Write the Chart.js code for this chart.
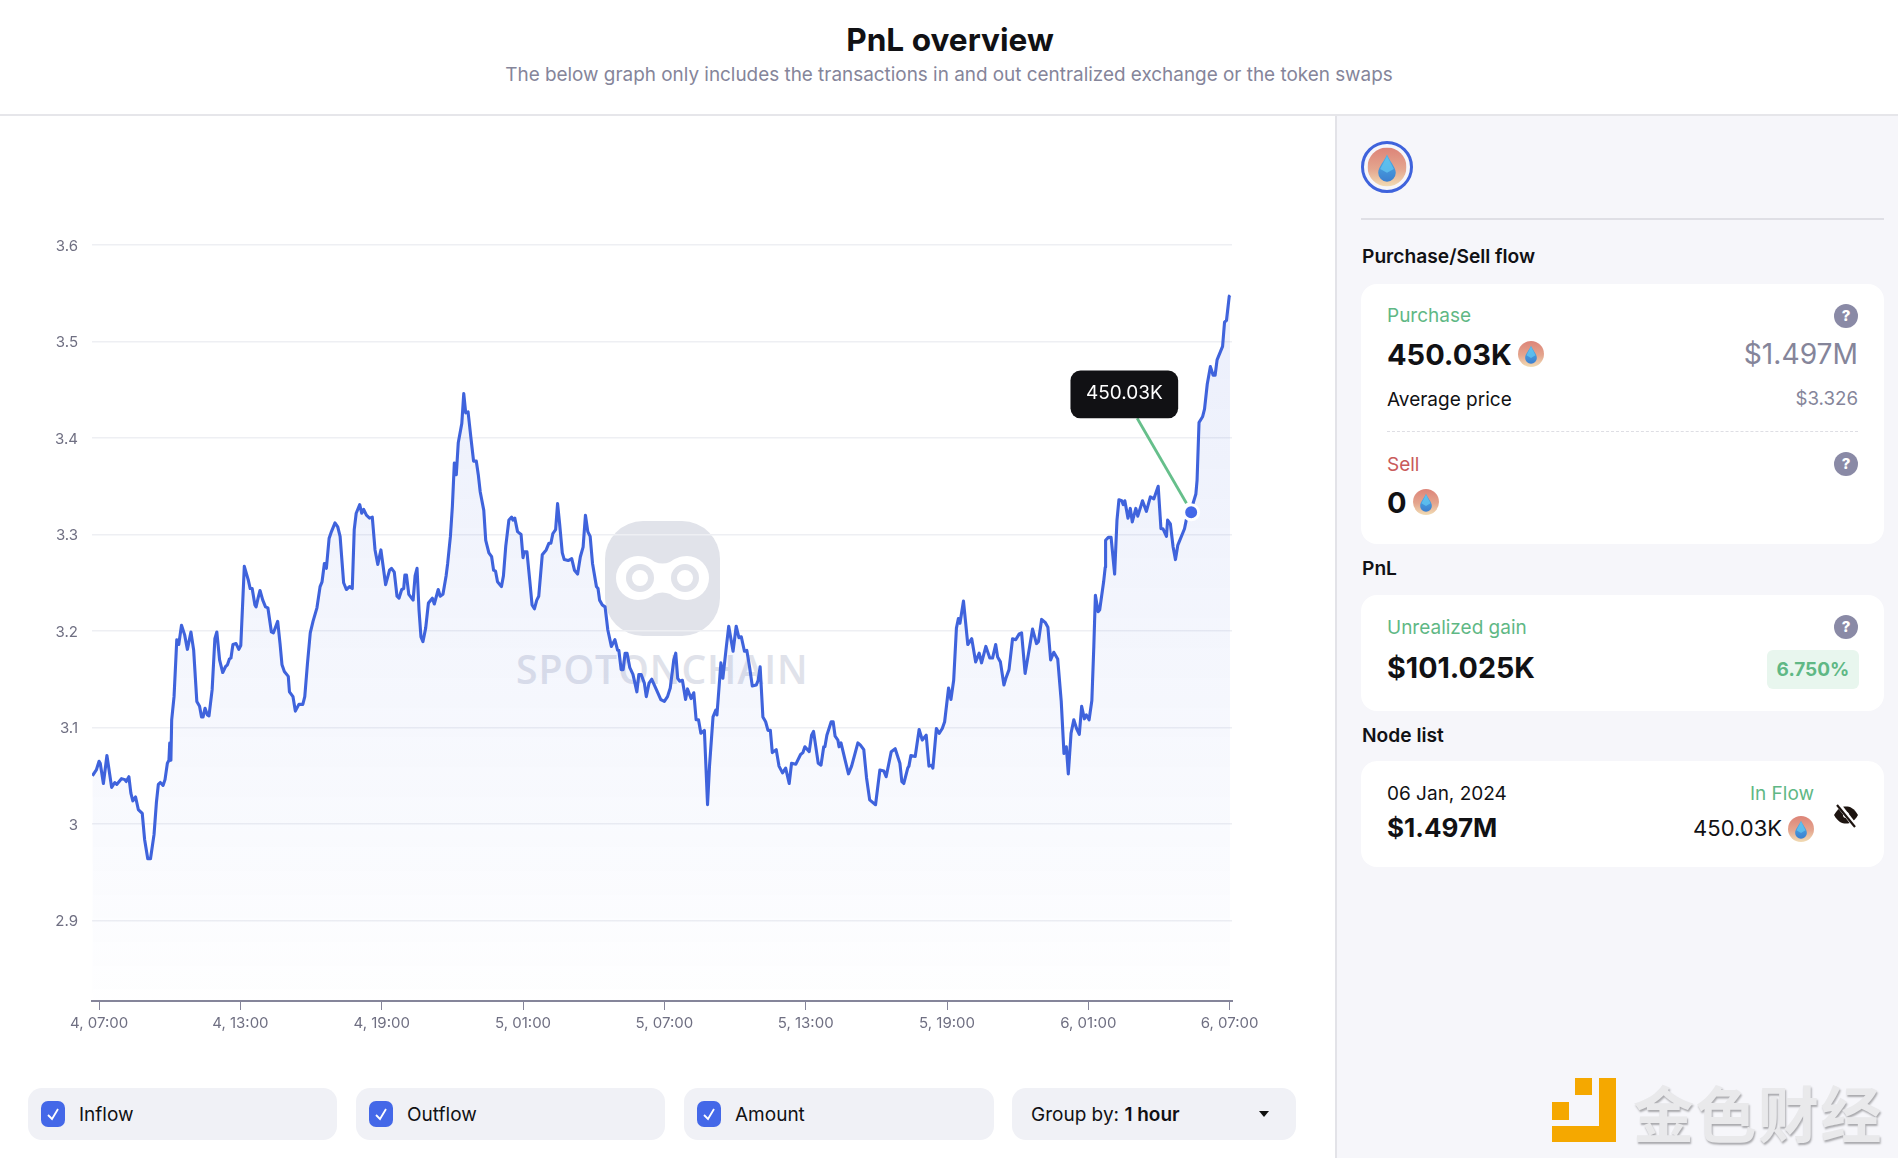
<!DOCTYPE html>
<html>
<head>
<meta charset="utf-8">
<script src="https://cdn.jsdelivr.net/npm/chart.js@4"></script>
<style>
*{box-sizing:border-box;margin:0;padding:0}
html,body{width:1898px;height:1158px;overflow:hidden;background:#fff;font-family:Inter,"Noto Sans",sans-serif;color:#111114}
.abs{position:absolute;white-space:nowrap;line-height:1}
.mid{transform:translateY(-50%)}
#head{position:absolute;left:0;top:0;width:1898px;height:116px;border-bottom:2px solid #e6e6ea;background:#fff}
#title{position:absolute;left:1px;width:1898px;text-align:center;top:39px;transform:translateY(-50%);font-size:31.6px;font-weight:700}
#sub{position:absolute;left:0;width:1898px;text-align:center;top:74px;transform:translateY(-50%);font-size:18.9px;color:#85859a}
#panel{position:absolute;left:1335px;top:116px;width:563px;height:1042px;background:#f6f6fa;border-left:2px solid #e3e3e8}
#divider{position:absolute;left:1361px;top:218px;width:523px;height:2px;background:#dfdfe5}
.card{position:absolute;left:1361px;width:523px;background:#fff;border-radius:16px}
.h{font-size:19.2px;font-weight:600;left:1362px}
.lab{font-size:19px;left:1387px}
.big{font-size:29px;font-weight:700;left:1387px}
.green{color:#5fb885}.red{color:#c95a5a}.gray{color:#85859a}
.help{position:absolute;width:24px;height:24px;border-radius:50%;background:#8a8aa6;color:#fff;font-size:15px;font-weight:800;text-align:center;line-height:24px}
.r{text-align:right}
.pill{position:absolute;top:1088px;height:52px;background:#f0f1f6;border-radius:14px}
.cb{position:absolute;left:13px;top:13px;width:24px;height:26px;border-radius:7px;background:#4468e8}
.pill span{position:absolute;left:51px;top:26px;transform:translateY(-50%);font-size:19px;white-space:nowrap;line-height:1}
#wmicon{position:absolute;left:605px;top:521px;width:115px;height:115px;border-radius:38px;background:#e1e3ea}
#wmtext{position:absolute;left:516px;top:654px;font-family:"Open Sans",sans-serif;font-weight:600;font-size:39px;line-height:30px;color:#e0e2ea;letter-spacing:1px;white-space:nowrap;transform:scaleX(1.0);transform-origin:left}
canvas{position:absolute;left:0;top:116px}
#jinse{position:absolute;left:1633px;top:1077px;font-family:"Noto Sans CJK SC",sans-serif;font-weight:700;font-size:61px;line-height:70px;color:#e9e9eb;letter-spacing:1.5px;text-shadow:1px 2px 2px #a9a9ad;white-space:nowrap}
</style>
</head>
<body>
<svg width="0" height="0" style="position:absolute">
<defs>
<linearGradient id="tokBg" x1="0" y1="0" x2="0" y2="1"><stop offset="0" stop-color="#dd8478"/><stop offset=".55" stop-color="#e4a58e"/><stop offset="1" stop-color="#f1dcb4"/></linearGradient>
<linearGradient id="tokDrop" x1="0" y1="0" x2="0" y2="1"><stop offset="0" stop-color="#4fb4ea"/><stop offset="1" stop-color="#3c7fcf"/></linearGradient>
<symbol id="tok" viewBox="0 0 40 40"><circle cx="20" cy="20" r="20" fill="url(#tokBg)"/><path d="M20 7 C22 13 29 20 29 26 A9 9 0 0 1 11 26 C11 20 18 13 20 7Z" fill="url(#tokDrop)"/><path d="M20 9 L27 22 L20 26 L13 22Z" fill="#63c7f2" opacity=".75"/></symbol>
</defs>
</svg>

<div id="wmicon"><svg width="115" height="115" viewBox="0 0 115 115"><path d="M33 35 C40 35 46 38 50 41 Q57.5 44 65 41 C69 38 75 35 82 35 A22 22 0 0 1 82 79 C75 79 69 76 65 73 Q57.5 70 50 73 C46 76 40 79 33 79 A22 22 0 0 1 33 35Z" fill="#fff"/><circle cx="35" cy="57" r="11" fill="none" stroke="#e1e3ea" stroke-width="6"/><circle cx="80" cy="57" r="11" fill="none" stroke="#e1e3ea" stroke-width="6"/></svg></div>
<div id="wmtext">SPOTONCHAIN</div>

<canvas id="c" width="1334" height="960"></canvas>

<div id="head">
  <div id="title">PnL overview</div>
  <div id="sub">The below graph only includes the transactions in and out centralized exchange or the token swaps</div>
</div>

<div id="panel"></div>
<svg class="abs" style="left:1361px;top:141px" width="52" height="52" viewBox="0 0 52 52"><circle cx="26" cy="26" r="24.5" fill="#f6f6fa" stroke="#3f63dc" stroke-width="3"/><use href="#tok" x="6.5" y="6.5" width="39" height="39"/></svg>
<div id="divider"></div>
<div class="abs mid h" style="top:257px">Purchase/Sell flow</div>
<div class="card" style="top:284px;height:260px"></div>
<div class="abs mid lab green" style="top:315px">Purchase</div>
<div class="help" style="left:1834px;top:304px">?</div>
<div class="abs mid big" style="top:354px">450.03K</div>
<svg class="abs" style="left:1518px;top:340px" width="26" height="28"><use href="#tok" width="26" height="28"/></svg>
<div class="abs mid gray r" style="top:354px;right:40px;font-size:28.2px">$1.497M</div>
<div class="abs mid lab" style="top:399px">Average price</div>
<div class="abs mid gray r" style="top:399px;right:40px;font-size:18.7px">$3.326</div>
<div class="abs" style="left:1387px;top:431px;width:471px;border-top:1px dashed #dedee4"></div>
<div class="abs mid lab red" style="top:464px">Sell</div>
<div class="help" style="left:1834px;top:452px">?</div>
<div class="abs mid big" style="top:502px">0</div>
<svg class="abs" style="left:1413px;top:488px" width="26" height="28"><use href="#tok" width="26" height="28"/></svg>

<div class="abs mid h" style="top:569px">PnL</div>
<div class="card" style="top:595px;height:116px"></div>
<div class="abs mid lab green" style="top:627px">Unrealized gain</div>
<div class="help" style="left:1834px;top:615px">?</div>
<div class="abs mid big" style="top:668px;font-size:28.7px">$101.025K</div>
<div class="abs" style="left:1767px;top:650px;width:92px;height:39px;border-radius:6px;background:#e8f6ee;color:#5fb885;font-size:19px;font-weight:700;text-align:center;line-height:39px">6.750%</div>

<div class="abs mid h" style="top:736px">Node list</div>
<div class="card" style="top:761px;height:106px"></div>
<div class="abs mid lab" style="top:793px">06 Jan, 2024</div>
<div class="abs mid green r" style="top:793px;right:84px;font-size:19px">In Flow</div>
<div class="abs mid big" style="top:828px;font-size:26px">$1.497M</div>
<div class="abs mid r" style="top:828px;right:116px;font-size:22px">450.03K</div>
<svg class="abs" style="left:1788px;top:815px" width="26" height="28"><use href="#tok" width="26" height="28"/></svg>
<svg class="abs" style="left:1833px;top:802px" width="26" height="26" viewBox="0 0 26 26"><path d="M1 13 C5 6 9 4.5 13 4.5 C17 4.5 21 6 25 13 C21 20 17 21.5 13 21.5 C9 21.5 5 20 1 13Z" fill="#1d1410"/><circle cx="13" cy="13" r="3" fill="#fff"/><path d="M5 2 L22 24" stroke="#fff" stroke-width="5"/><path d="M4 3 L22 25" stroke="#1d1410" stroke-width="2.2"/></svg>

<div class="pill" style="left:28px;width:309px"><div class="cb"></div><svg class="abs" style="left:18px;top:18px" width="14" height="16" viewBox="0 0 14 16"><path d="M2 9 L6 13 L12 3" fill="none" stroke="#fff" stroke-width="1.8"/></svg><span>Inflow</span></div>
<div class="pill" style="left:356px;width:309px"><div class="cb"></div><svg class="abs" style="left:18px;top:18px" width="14" height="16" viewBox="0 0 14 16"><path d="M2 9 L6 13 L12 3" fill="none" stroke="#fff" stroke-width="1.8"/></svg><span>Outflow</span></div>
<div class="pill" style="left:684px;width:310px"><div class="cb"></div><svg class="abs" style="left:18px;top:18px" width="14" height="16" viewBox="0 0 14 16"><path d="M2 9 L6 13 L12 3" fill="none" stroke="#fff" stroke-width="1.8"/></svg><span>Amount</span></div>
<div class="pill" style="left:1012px;width:284px"><span style="left:19px">Group by: <b style="font-weight:600">1 hour</b></span><svg class="abs" style="left:247px;top:23px" width="10" height="6"><path d="M0 0 L10 0 L5 6Z" fill="#111"/></svg></div>

<svg class="abs" style="left:1552px;top:1078px" width="65" height="65"><g fill="#f5a800"><rect x="23" y="0" width="17" height="17"/><rect x="0" y="24" width="17" height="18"/><path d="M47 0 H64 V64 H0 V48 H47Z"/></g></svg>
<div id="jinse">金色财经</div>

<script>
// Minutes after 07:00 on day 4, and the token price at that time
const minutes = [
-17,-7,0,3,11,20,32,40,45,57,66,69,76,81,86,93,100,110,116,124,131,140,146,151,156,163,168,174,178,180,183,185,191,198,203,210,218,225,234,241,249,256,261,265,270,276,280,288,295,300,307,315,322,327,332,336,341,349,356,361,370,380,385,390,397,400,405,410,417,424,430,439,444,455,461,466,472,482,485,494,500,509,519,524,531,538,545,555,563,568,574,579,
586,592,601,608,614,623,630,638,645,650,655,664,669,674,681,689,696,703,710,718,730,740,745,752,759,764,771,776,779,783,789,800,805,810,815,820,825,832,839,849,854,864,869,876,884,888,895,900,905,910,915,924,929,934,940,947,954,961,966,971,980,985,993,1000,1005,1010,1015,1025,1030,1036,1044,1051,1054,1059,1066,1075,1080,1083,1090,1097,1103,1109,1115,1120,1129,1139,1146,1151,1156,1163,1168,
1173,1180,1185,1195,1204,1211,1219,1226,1233,1239,1245,1251,1257,1267,1271,1275,1282,1289,1296,1305,1314,1321,1324,1330,1335,1340,1345,1352,1360,1370,1375,1381,1389,1394,1401,1408,1420,1431,1440,1448,1455,1464,1469,1474,1479,1486,1494,1499,1508,1515,1521,1527,1533,1542,1550,1555,1564,1571,1574,1584,1589,1598,1604,1615,1623,1630,1636,1644,1650,1657,1664,1674,1679,1684,1691,1698,1704,1710,1715,
1725,1732,1741,1749,1758,1764,1775,1787,1793,1798,1809,1815,1820,1832,1839,1846,1849,1854,1865,1870,1875,1882,1885,1890,1900,1909,1917,1933,1939,1948,1955,1963,1978,1989,1999,2005,2018,2028,2040,2045,2050,2060,2063,2068,2079,2089,2097,2107,2114,2121,2124,2133,2140,2148,2154,2164,2170,2177,2184,2189,2193,2202,2213,2223,2233,2242,2248,2259,2269,2276,2284,2289,2296,
2305,2310,2318,2327,2335,2344,2350,2359,2371,2378,2388,2393,2401,2410,2417,2424,2432,2442,2451,2458,2464,2469,2476,2483,2490,2497,2503,2510,2515,2522,2529,2534,2538,2545,2549,2559,2563,2564,2571,2578,2587,2593,2598,2605,2609,2613,2621,2627,2632,2641,2646,2658,2668,2678,2687,2698,2705,2710,2719,2722,2729,2736,2742,2748,2765,2770,2780,2794,2797,2802,2811,2816,2823,2831,2838,2843,2848,2862,2867,2872,2879,2881
];
const prices = [
3.050,3.056,3.065,3.063,3.042,3.071,3.038,3.043,3.041,3.047,3.046,3.044,3.049,3.032,3.024,3.028,3.015,3.011,2.984,2.964,2.964,2.989,3.022,3.041,3.043,3.040,3.046,3.063,3.066,3.084,3.066,3.108,3.132,3.191,3.186,3.206,3.196,3.181,3.199,3.180,3.127,3.122,3.111,3.111,3.120,3.113,3.112,3.139,3.192,3.199,3.170,3.157,3.163,3.165,3.171,3.172,3.186,3.187,3.181,3.185,3.267,3.253,3.244,3.244,3.227,3.225,3.234,3.242,3.232,3.225,3.224,3.199,3.198,3.210,3.187,3.165,3.158,3.153,3.137,3.132,3.117,3.124,3.124,3.132,3.167,3.198,3.210,3.224,3.246,3.251,3.270,3.265,
3.296,3.303,3.312,3.308,3.298,3.250,3.243,3.246,3.244,3.305,3.322,3.331,3.322,3.326,3.320,3.317,3.318,3.284,3.269,3.284,3.248,3.263,3.265,3.261,3.236,3.234,3.243,3.244,3.258,3.258,3.238,3.232,3.257,3.265,3.222,3.194,3.189,3.203,3.229,3.234,3.228,3.243,3.236,3.238,3.257,3.270,3.298,3.329,3.374,3.362,3.395,3.415,3.446,3.426,3.427,3.401,3.376,3.376,3.362,3.344,3.325,3.294,3.281,3.277,3.263,3.262,3.251,3.246,3.257,3.288,3.315,3.318,3.315,3.317,3.303,3.300,3.276,3.282,3.282,3.253,3.227,3.223,3.232,3.236,3.279,3.284,3.291,3.291,3.301,3.305,3.332,
3.312,3.281,3.274,3.273,3.275,3.263,3.259,3.277,3.287,3.320,3.303,3.298,3.270,3.246,3.244,3.232,3.227,3.225,3.201,3.184,3.191,3.180,3.180,3.160,3.160,3.177,3.177,3.162,3.155,3.137,3.155,3.155,3.146,3.132,3.146,3.150,3.139,3.129,3.127,3.132,3.141,3.170,3.177,3.151,3.148,3.149,3.129,3.140,3.130,3.136,3.108,3.108,3.094,3.097,3.020,3.060,3.111,3.118,3.113,3.167,3.151,3.184,3.205,3.179,3.205,3.193,3.194,3.179,3.180,3.163,3.143,3.144,3.149,3.163,3.111,3.106,3.097,3.097,3.074,
3.077,3.060,3.053,3.058,3.042,3.063,3.062,3.072,3.074,3.080,3.075,3.092,3.096,3.063,3.061,3.080,3.080,3.092,3.106,3.106,3.091,3.087,3.080,3.084,3.067,3.052,3.060,3.084,3.082,3.077,3.048,3.025,3.020,3.056,3.055,3.049,3.075,3.078,3.063,3.044,3.042,3.058,3.060,3.071,3.070,3.098,3.087,3.092,3.060,3.061,3.058,3.099,3.094,3.099,3.106,3.141,3.129,3.149,3.203,3.213,3.208,3.231,3.186,3.192,3.168,3.177,3.167,3.184,3.172,3.172,3.186,3.173,3.168,
3.144,3.151,3.160,3.192,3.191,3.197,3.198,3.156,3.185,3.202,3.187,3.189,3.212,3.209,3.204,3.170,3.178,3.171,3.127,3.073,3.080,3.052,3.094,3.108,3.099,3.093,3.122,3.109,3.113,3.108,3.128,3.184,3.237,3.220,3.222,3.251,3.266,3.294,3.297,3.297,3.259,3.315,3.336,3.335,3.331,3.335,3.317,3.327,3.313,3.327,3.319,3.335,3.324,3.339,3.337,3.350,3.306,3.306,3.298,3.315,3.311,3.287,3.274,3.289,3.306,3.316,3.323,3.342,3.356,3.416,3.422,3.430,3.456,3.474,3.465,3.465,3.481,3.495,3.520,3.522,3.547,3.548
];
const tickMinutes = [0,360,720,1080,1440,1800,2160,2520,2880];
const tickLabels = ['4, 07:00','4, 13:00','4, 19:00','5, 01:00','5, 07:00','5, 13:00','5, 19:00','6, 01:00','6, 07:00'];
const priceTicks = [2.9,3,3.1,3.2,3.3,3.4,3.5,3.6];
const nodeMinute = 2782, nodePrice = 3.323, nodeLabel = '450.03K';

const annotation = {
  id:'annotation',
  afterDatasetsDraw(chart){
    const c = chart.ctx;
    const px = chart.scales.x.getPixelForValue(nodeMinute);
    const py = chart.scales.y.getPixelForValue(nodePrice);
    c.save();
    c.strokeStyle = '#66bf8b'; c.lineWidth = 2.8;
    c.beginPath(); c.moveTo(px-4.7,py-9); c.lineTo(px-54,py-94); c.stroke();
    c.fillStyle = '#111114';
    c.beginPath(); c.roundRect(px-120.7,py-141.7,107.7,47.7,10); c.fill();
    c.fillStyle = '#fff'; c.font = '400 19px Inter'; c.textAlign='center'; c.textBaseline='middle';
    c.fillText(nodeLabel,px-66.8,py-119);
    c.restore();
  }
};

new Chart(document.getElementById('c'),{
  type:'line',
  plugins:[annotation],
  data:{datasets:[
    {label:'Node',data:[{x:nodeMinute,y:nodePrice}],showLine:false,pointRadius:7.5,pointBackgroundColor:'#4468e8',pointBorderColor:'#fff',pointBorderWidth:3,order:0},
    {label:'Price',data:minutes.map((m,i)=>({x:m,y:prices[i]})),borderColor:'#3f63dc',borderWidth:3.1,borderJoinStyle:'round',pointRadius:0,tension:0,fill:'start',order:1,
     backgroundColor(ctx){
       const a = ctx.chart.chartArea; if(!a) return 'transparent';
       const g = ctx.chart.ctx.createLinearGradient(0,a.top,0,a.bottom);
       g.addColorStop(0,'rgba(63,99,220,.11)');
       g.addColorStop(.75,'rgba(63,99,220,.035)');
       g.addColorStop(1,'rgba(63,99,220,.005)');
       return g;
     }}
  ]},
  options:{
    responsive:false,animation:false,devicePixelRatio:1,parsing:true,
    layout:{padding:{left:0,right:102,top:129,bottom:0}},
    plugins:{legend:{display:false},tooltip:{enabled:false}},
    events:[],
    scales:{
      x:{type:'linear',min:-18,max:2886,
        afterBuildTicks(s){s.ticks=tickMinutes.map(v=>({value:v}));},
        afterFit(s){s.height=75;},
        border:{color:'#85859a',width:2},
        grid:{drawOnChartArea:false,drawTicks:true,tickLength:9,color:'#85859a',lineWidth:1},
        ticks:{autoSkip:false,maxRotation:0,padding:4,color:'#6f6f82',font:{family:'Inter',size:15},
          callback(v){return tickLabels[tickMinutes.indexOf(v)];}}
      },
      y:{type:'linear',min:2.8166,max:3.6,
        afterBuildTicks(s){s.ticks=priceTicks.map(v=>({value:v}));},
        afterFit(s){s.width=92;},
        border:{display:false},
        grid:{color:'#eeeff3',lineWidth:1.5,drawTicks:false},
        ticks:{padding:14,labelOffset:1,color:'#6f6f82',font:{family:'Inter',size:15},callback(v){return String(v);}}
      }
    }
  }
});
</script>
</body>
</html>
